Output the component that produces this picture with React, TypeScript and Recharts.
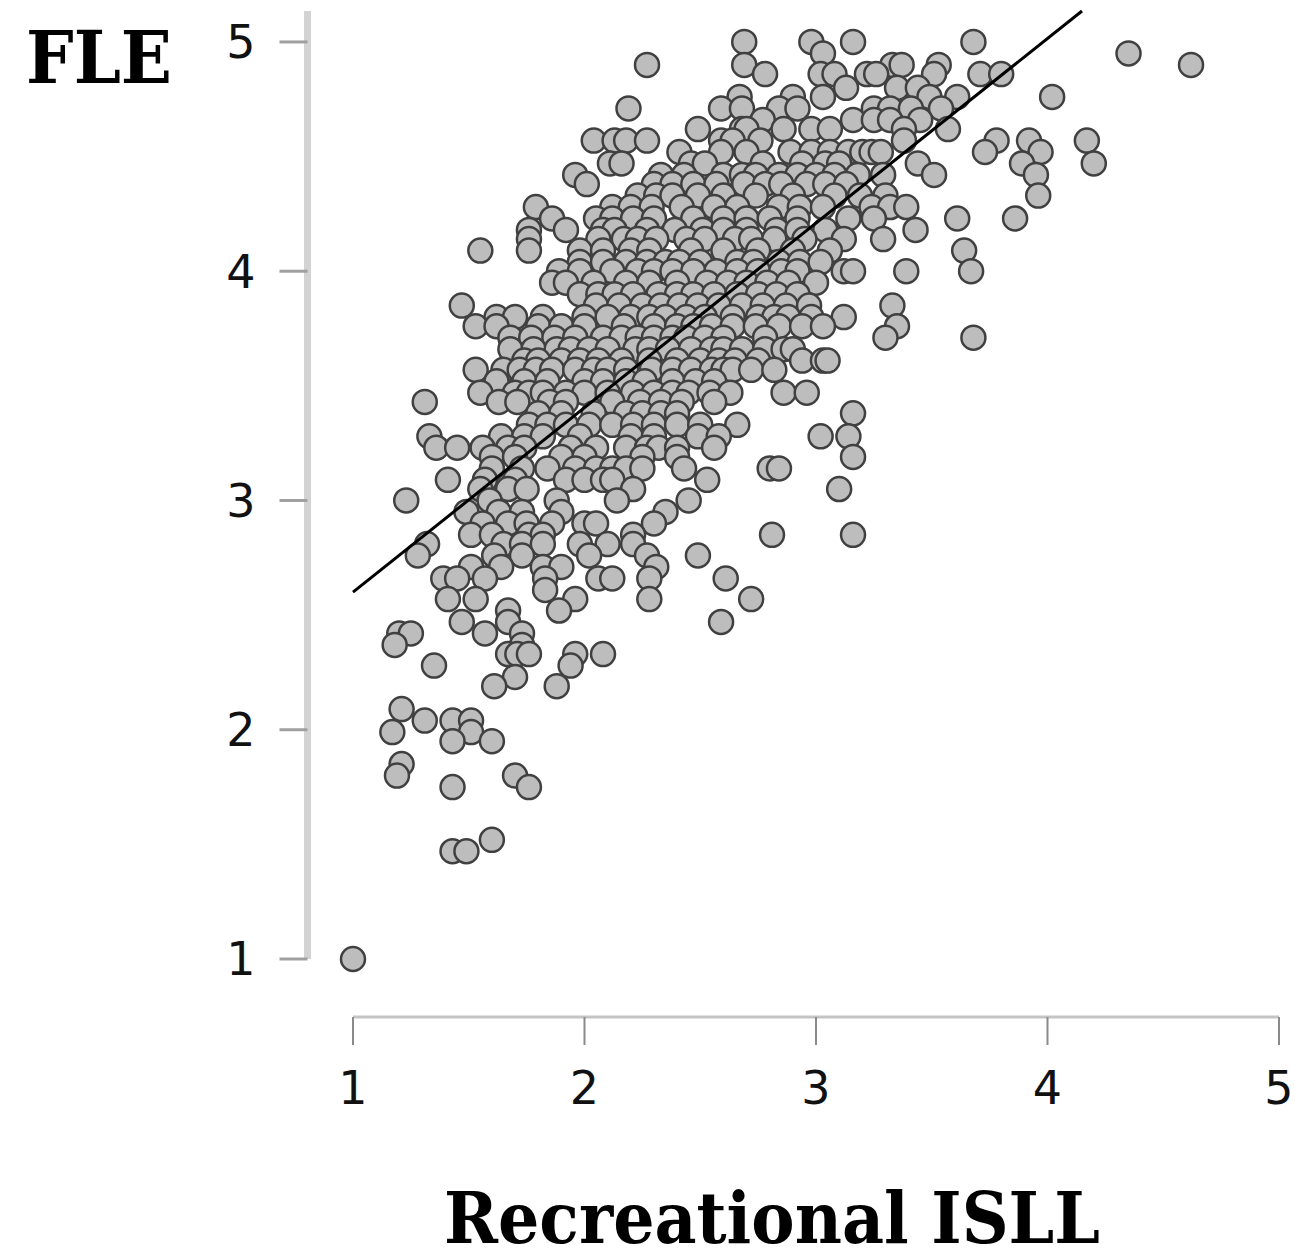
import React from "react";
import { ScatterChart, Scatter, XAxis, YAxis, ReferenceLine } from "recharts";

// FLE scores, one entry per row of dots
const fleLevels = [
  5.0, 4.95, 4.9, 4.86, 4.8, 4.76, 4.71, 4.66, 4.62, 4.57, 4.52, 4.47, 4.42, 4.38, 4.33, 4.28, 4.23, 4.18, 4.14,
  4.09, 4.04, 4.0, 3.95, 3.9, 3.85, 3.8, 3.76, 3.71, 3.66, 3.61, 3.57, 3.52, 3.47, 3.43, 3.38, 3.33, 3.28, 3.23,
  3.19, 3.14, 3.09, 3.05, 3.0, 2.95, 2.9, 2.85, 2.81, 2.76, 2.71, 2.66, 2.61, 2.57, 2.52, 2.47, 2.42, 2.37, 2.33,
  2.28, 2.23, 2.19, 2.09, 2.04, 1.99, 1.95, 1.85, 1.8, 1.75, 1.52, 1.47, 1.0,
];

// Recreational ISLL scores for each FLE row above
const isllByLevel = [
  [2.69, 2.98, 3.16, 3.68],
  [3.03, 4.35],
  [2.27, 2.69, 3.33, 3.37, 3.53, 4.62],
  [2.78, 3.02, 3.08, 3.22, 3.26, 3.51, 3.71, 3.8],
  [3.13, 3.35, 3.44],
  [2.67, 2.9, 3.03, 3.49, 3.61, 4.02],
  [2.19, 2.59, 2.68, 2.84, 2.92, 3.25, 3.32, 3.41, 3.54],
  [2.77, 3.16, 3.25, 3.32, 3.45],
  [2.49, 2.68, 2.7, 2.86, 2.98, 3.06, 3.38, 3.57],
  [2.04, 2.13, 2.18, 2.27, 2.59, 2.64, 2.76, 3.38, 3.78, 3.92, 4.17],
  [2.41, 2.59, 2.7, 2.89, 2.98, 3.06, 3.14, 3.2, 3.24, 3.28, 3.73, 3.97],
  [2.11, 2.16, 2.46, 2.52, 2.77, 2.94, 3.04, 3.1, 3.44, 3.89, 4.2],
  [1.96, 2.33, 2.43, 2.6, 2.68, 2.74, 2.84, 2.92, 3.0, 3.08, 3.18, 3.29, 3.51, 3.95],
  [2.01, 2.3, 2.38, 2.47, 2.57, 2.69, 2.78, 2.85, 2.96, 3.04, 3.13],
  [2.23, 2.31, 2.38, 2.49, 2.6, 2.74, 2.9, 3.08, 3.19, 3.3, 3.96],
  [1.79, 2.12, 2.2, 2.29, 2.42, 2.56, 2.66, 2.84, 2.93, 3.03, 3.24, 3.32, 3.39],
  [1.86, 2.05, 2.12, 2.21, 2.3, 2.47, 2.6, 2.7, 2.8, 2.92, 3.14, 3.25, 3.61, 3.86],
  [1.76, 1.92, 2.08, 2.13, 2.27, 2.39, 2.51, 2.6, 2.7, 2.83, 2.92, 3.04, 3.43],
  [1.76, 2.06, 2.17, 2.23, 2.31, 2.44, 2.52, 2.65, 2.72, 2.82, 2.95, 3.12, 3.29],
  [1.55, 1.76, 1.98, 2.08, 2.2, 2.28, 2.46, 2.6, 2.75, 2.9, 3.06, 3.64],
  [1.98, 2.08, 2.18, 2.27, 2.35, 2.41, 2.5, 2.66, 2.73, 2.84, 2.93, 3.02],
  [1.89, 1.98, 2.12, 2.23, 2.3, 2.38, 2.47, 2.57, 2.66, 2.75, 2.85, 2.92, 3.12, 3.16, 3.39, 3.67],
  [1.86, 1.92, 2.04, 2.18, 2.28, 2.4, 2.53, 2.62, 2.7, 2.79, 2.88, 3.0],
  [1.98, 2.06, 2.13, 2.21, 2.32, 2.4, 2.47, 2.56, 2.66, 2.75, 2.83, 2.92],
  [1.47, 2.05, 2.15, 2.25, 2.33, 2.41, 2.49, 2.58, 2.68, 2.77, 2.87, 2.97, 3.33],
  [1.62, 1.7, 1.82, 2.0, 2.1, 2.2, 2.28, 2.35, 2.44, 2.52, 2.64, 2.75, 2.82, 2.88, 2.98, 3.12],
  [1.53, 1.62, 1.8, 1.9, 2.0, 2.17, 2.3, 2.4, 2.47, 2.55, 2.64, 2.74, 2.84, 2.94, 3.03, 3.35],
  [1.68, 1.77, 1.87, 1.96, 2.08, 2.16, 2.23, 2.3, 2.38, 2.44, 2.52, 2.6, 2.78, 3.3, 3.68],
  [1.68, 1.78, 1.88, 1.94, 2.02, 2.1, 2.22, 2.28, 2.36, 2.46, 2.55, 2.6, 2.68, 2.78, 2.86, 2.9],
  [1.74, 1.8, 1.9, 1.98, 2.06, 2.16, 2.28, 2.4, 2.5, 2.58, 2.65, 2.75, 2.94, 3.03, 3.05],
  [1.53, 1.65, 1.72, 1.79, 1.86, 1.96, 2.04, 2.1, 2.18, 2.29, 2.38, 2.46, 2.55, 2.6, 2.64, 2.72, 2.82],
  [1.62, 1.74, 1.84, 2.0, 2.08, 2.18, 2.26, 2.38, 2.48, 2.56],
  [1.55, 1.7, 1.76, 1.82, 1.92, 2.0, 2.1, 2.21, 2.3, 2.38, 2.45, 2.54, 2.63, 2.86, 2.96],
  [1.31, 1.63, 1.71, 1.85, 1.92, 2.12, 2.24, 2.33, 2.42, 2.56],
  [1.8, 1.9, 2.04, 2.18, 2.25, 2.33, 2.4, 3.16],
  [1.76, 1.84, 1.92, 2.02, 2.12, 2.21, 2.3, 2.4, 2.5, 2.66],
  [1.33, 1.64, 1.74, 1.82, 1.98, 2.2, 2.3, 2.49, 2.58, 3.02, 3.14],
  [1.36, 1.45, 1.56, 1.67, 1.74, 1.94, 2.05, 2.18, 2.27, 2.32, 2.4, 2.56],
  [1.6, 1.7, 1.9, 2.0, 2.25, 2.4, 3.16],
  [1.6, 1.73, 1.84, 1.96, 2.05, 2.12, 2.18, 2.25, 2.43, 2.8, 2.84],
  [1.41, 1.57, 1.7, 1.92, 2.0, 2.08, 2.12, 2.53],
  [1.55, 1.67, 1.75, 2.21, 3.1],
  [1.23, 1.59, 1.88, 2.14, 2.45],
  [1.49, 1.63, 1.73, 1.9, 2.35],
  [1.56, 1.67, 1.75, 1.86, 2.0, 2.05, 2.3],
  [1.51, 1.6, 1.76, 1.82, 2.21, 2.81, 3.16],
  [1.32, 1.65, 1.73, 1.82, 1.98, 2.1, 2.21],
  [1.28, 1.61, 1.73, 2.02, 2.27, 2.49],
  [1.51, 1.64, 1.82, 1.9, 2.31],
  [1.39, 1.45, 1.57, 1.83, 2.06, 2.12, 2.28, 2.61],
  [1.83],
  [1.41, 1.53, 1.96, 2.28, 2.72],
  [1.67, 1.89],
  [1.47, 1.67, 2.59],
  [1.2, 1.25, 1.57, 1.73],
  [1.18, 1.73],
  [1.67, 1.71, 1.76, 1.96, 2.08],
  [1.35, 1.94],
  [1.7],
  [1.61, 1.88],
  [1.21],
  [1.31, 1.43, 1.51],
  [1.17, 1.51],
  [1.43, 1.6],
  [1.21],
  [1.19, 1.7],
  [1.43, 1.76],
  [1.6],
  [1.43, 1.49],
  [1.0],
];

const trendIsll = [1, 4.149];
const trendFle = [2.6, 5.135];
const axisTicks = [1, 2, 3, 4, 5];

const points = fleLevels.flatMap((fle, i) => isllByLevel[i].map((isll) => ({ x: isll, y: fle })));
const trend = trendIsll.map((isll, i) => ({ x: isll, y: trendFle[i] }));

const xMin = 0.8035;
const yMin = 0.747;
const yMax = 5.135;

const tickStyle = { fontFamily: "DejaVu Sans", fontSize: 46, fill: "#111" };
const titleStyle = { fontFamily: "DejaVu Serif", fontWeight: 700, fill: "#000" };

const Dot = (props: any) => (
  <circle cx={props.cx} cy={props.cy} r={12} fill="#bdbdbd" stroke="#404040" strokeWidth={2.5} />
);

export default function App() {
  return (
    <div style={{ position: "absolute", left: 0, top: 0, width: 1295, height: 1250 }}>
      <ScatterChart width={1295} height={1250} margin={{ top: 11, right: 16, left: 0, bottom: 0 }}>
        <XAxis
          type="number"
          dataKey="x"
          domain={[xMin, 5]}
          ticks={axisTicks}
          interval={0}
          height={233}
          axisLine={false}
          tickLine={{ stroke: "#8a8a8a", strokeWidth: 2 }}
          tickSize={28}
          tickMargin={26}
          tick={tickStyle}
        />
        <YAxis
          type="number"
          dataKey="y"
          domain={[yMin, yMax]}
          ticks={axisTicks}
          interval={0}
          width={307.5}
          axisLine={false}
          tickLine={{ stroke: "#a0a0a0", strokeWidth: 3 }}
          tickSize={28}
          tickMargin={24}
          tick={tickStyle}
        />
        <ReferenceLine
          segment={[{ x: xMin, y: 1 }, { x: xMin, y: yMax }]}
          stroke="#d3d3d3"
          strokeWidth={7}
          ifOverflow="visible"
        />
        <ReferenceLine
          segment={[{ x: 1, y: yMin }, { x: 5, y: yMin }]}
          stroke="#c4c4c4"
          strokeWidth={3}
          ifOverflow="visible"
        />
        <Scatter data={points} shape={Dot} isAnimationActive={false} />
        <Scatter
          data={trend}
          line={{ stroke: "#000", strokeWidth: 3 }}
          shape={() => null}
          isAnimationActive={false}
        />
        <text x={26} y={83} fontSize={72} textLength={146} lengthAdjust="spacingAndGlyphs" style={titleStyle}>
          FLE
        </text>
        <text x={444} y={1243} fontSize={71} textLength={656} lengthAdjust="spacingAndGlyphs" style={titleStyle}>
          Recreational ISLL
        </text>
      </ScatterChart>
    </div>
  );
}
